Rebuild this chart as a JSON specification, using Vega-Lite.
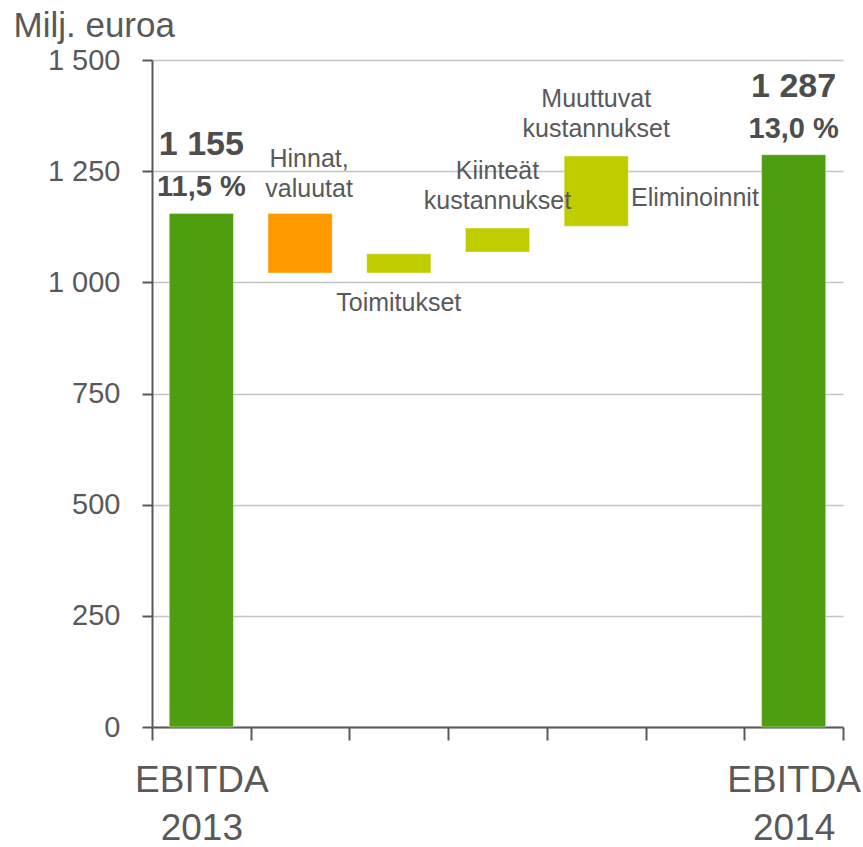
{
  "$schema": "https://vega.github.io/schema/vega-lite/v6.json",
  "autosize": "none",
  "width": 691,
  "height": 667,
  "padding": {"left": 152, "top": 60, "right": 20, "bottom": 120},
  "background": "white",
  "config": {
    "view": {"stroke": null},
    "font": "Liberation Sans",
    "text": {"font": "Liberation Sans", "color": "#595959"}
  },
  "data": {
    "values": [
      {"cat": "EBITDA 2013", "start": 0, "end": 1155, "type": "total", "label": "", "value": "1 155", "pct": "11,5 %"},
      {"cat": "Hinnat, valuutat", "start": 1155, "end": 1021, "type": "neg", "label": "Hinnat,\nvaluutat"},
      {"cat": "Toimitukset", "start": 1021, "end": 1064, "type": "pos", "label": "Toimitukset"},
      {"cat": "Kiinteät kustannukset", "start": 1068, "end": 1122, "type": "pos", "label": "Kiinteät\nkustannukset"},
      {"cat": "Muuttuvat kustannukset", "start": 1126, "end": 1284, "type": "pos", "label": "Muuttuvat\nkustannukset"},
      {"cat": "Eliminoinnit", "start": 1287, "end": 1287, "type": "pos", "label": "Eliminoinnit"},
      {"cat": "EBITDA 2014", "start": 0, "end": 1287, "type": "total", "label": "", "value": "1 287", "pct": "13,0 %"}
    ]
  },
  "encoding": {
    "x": {
      "field": "cat",
      "type": "nominal",
      "sort": null,
      "scale": {"paddingInner": 0, "paddingOuter": 0},
      "axis": {
        "title": null,
        "labelAngle": 0,
        "tickBand": "extent",
        "tickSize": 13,
        "tickWidth": 2,
        "tickColor": "#595959",
        "domainColor": "#595959",
        "domainWidth": 2,
        "labelFont": "Liberation Sans",
        "labelFontSize": 37,
        "labelColor": "#595959",
        "labelLineHeight": 48,
        "labelBaseline": "top",
        "labelPadding": 22,
        "labelExpr": "indexof(datum.label, 'EBITDA') == 0 ? split(datum.label, ' ') : ''",
        "labelOverlap": false,
        "labelLimit": 400
      }
    }
  },
  "layer": [
    {
      "mark": {"type": "bar", "width": {"band": 0.65}, "stroke": "#ffffff", "strokeWidth": 0.8, "strokeOpacity": 0.5},
      "encoding": {
        "y": {
          "field": "start",
          "type": "quantitative",
          "scale": {"domain": [0, 1500], "nice": false},
          "axis": {
            "values": [0, 250, 500, 750, 1000, 1250, 1500],
            "labelExpr": "replace(format(datum.value, ','), ',', ' ')",
            "labelFont": "Liberation Sans",
            "labelFontSize": 29,
            "labelColor": "#595959",
            "labelPadding": 22,
            "tickSize": 10,
            "tickWidth": 2,
            "tickColor": "#595959",
            "domainColor": "#595959",
            "domainWidth": 2,
            "grid": true,
            "gridColor": "#C4C4C4",
            "gridWidth": 1.5,
            "title": "Milj. euroa",
            "titleFont": "Liberation Sans",
            "titleFontSize": 35,
            "titleFontWeight": "normal",
            "titleColor": "#595959",
            "titleAngle": 0,
            "titleAlign": "left",
            "titleBaseline": "alphabetic",
            "titleX": -139,
            "titleY": -24
          }
        },
        "y2": {"field": "end"},
        "color": {
          "field": "type",
          "type": "nominal",
          "scale": {"domain": ["total", "neg", "pos"], "range": ["#4F9E0F", "#FF9900", "#BFCC00"]},
          "legend": null
        }
      }
    },
    {
      "transform": [{"filter": "datum.cat == 'Kiinteät kustannukset' || datum.cat == 'Muuttuvat kustannukset'"}],
      "mark": {"type": "text", "fontSize": 25, "lineHeight": 30, "lineBreak": "\n", "baseline": "bottom", "dy": -44},
      "encoding": {
        "y": {"field": "end", "type": "quantitative"},
        "text": {"field": "label"}
      }
    },
    {
      "transform": [{"filter": "datum.cat == 'Hinnat, valuutat'"}],
      "mark": {"type": "text", "fontSize": 25, "lineHeight": 30, "lineBreak": "\n", "baseline": "bottom", "dy": -41, "dx": 9},
      "encoding": {
        "y": {"field": "start", "type": "quantitative"},
        "text": {"field": "label"}
      }
    },
    {
      "transform": [{"filter": "datum.cat == 'Toimitukset'"}],
      "mark": {"type": "text", "fontSize": 25, "baseline": "top", "dy": 18},
      "encoding": {
        "y": {"field": "start", "type": "quantitative"},
        "text": {"field": "label"}
      }
    },
    {
      "transform": [{"filter": "datum.cat == 'Eliminoinnit'"}],
      "mark": {"type": "text", "fontSize": 25, "baseline": "top", "dy": 31},
      "encoding": {
        "y": {"field": "start", "type": "quantitative"},
        "text": {"field": "label"}
      }
    },
    {
      "transform": [{"filter": "datum.type == 'total'"}],
      "mark": {"type": "text", "fontSize": 34, "fontWeight": "bold", "color": "#4D4D4D", "baseline": "alphabetic", "dy": -58},
      "encoding": {
        "y": {"field": "end", "type": "quantitative"},
        "text": {"field": "value"}
      }
    },
    {
      "transform": [{"filter": "datum.type == 'total'"}],
      "mark": {"type": "text", "fontSize": 29, "fontWeight": "bold", "color": "#4D4D4D", "baseline": "alphabetic", "dy": -17},
      "encoding": {
        "y": {"field": "end", "type": "quantitative"},
        "text": {"field": "pct"}
      }
    }
  ]
}
